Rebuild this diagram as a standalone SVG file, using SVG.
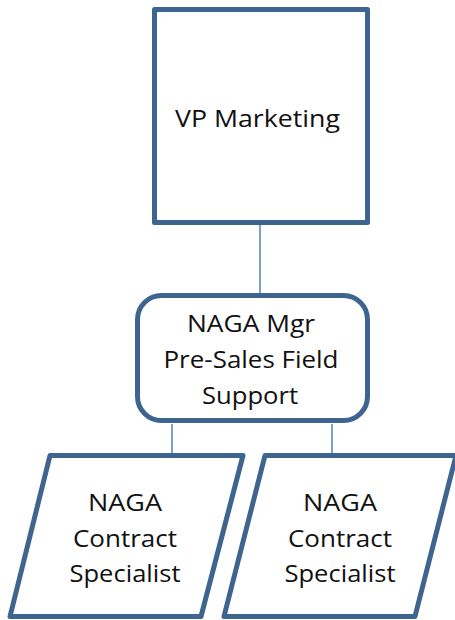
<svg xmlns="http://www.w3.org/2000/svg" width="455" height="620" viewBox="0 0 455 620">
<style>
.box{fill:#fff;stroke:#3e6590;stroke-width:5;stroke-linejoin:round}
.con{stroke:#4f81bd;stroke-width:1.5;fill:none}
.t{font-family:"Open Sans","Liberation Sans",sans-serif;font-size:24px;fill:#111;text-anchor:middle}
</style>
<rect width="455" height="620" fill="#fff"/>
<g id="connectors">
<line class="con" x1="260" y1="225" x2="260" y2="294"/>
<line class="con" x1="172" y1="424" x2="172" y2="455"/>
<line class="con" x1="332" y1="424" x2="332" y2="455"/>
</g>
<g id="vp">
<rect class="box" x="154.5" y="9.5" width="213" height="213"/>
<text class="t" x="257.5" y="127" textLength="165" lengthAdjust="spacingAndGlyphs">VP Marketing</text>
</g>
<g id="mgr">
<rect class="box" x="137.5" y="295.5" width="230" height="125" rx="24"/>
<text class="t" x="251" y="332" textLength="128" lengthAdjust="spacingAndGlyphs">NAGA Mgr</text>
<text class="t" x="251" y="368" textLength="175" lengthAdjust="spacingAndGlyphs">Pre-Sales Field</text>
<text class="t" x="250" y="404" textLength="96" lengthAdjust="spacingAndGlyphs">Support</text>
</g>
<g id="spec1">
<polygon class="box" points="50,455.5 243,455.5 201,616.5 10,616.5"/>
<text class="t" x="125" y="511" textLength="74" lengthAdjust="spacingAndGlyphs">NAGA</text>
<text class="t" x="125" y="547" textLength="104" lengthAdjust="spacingAndGlyphs">Contract</text>
<text class="t" x="125" y="582" textLength="111" lengthAdjust="spacingAndGlyphs">Specialist</text>
</g>
<g id="spec2">
<polygon class="box" points="265,455.5 456,455.5 415,616.5 224,616.5"/>
<text class="t" x="340" y="511" textLength="74" lengthAdjust="spacingAndGlyphs">NAGA</text>
<text class="t" x="340" y="547" textLength="104" lengthAdjust="spacingAndGlyphs">Contract</text>
<text class="t" x="340" y="582" textLength="111" lengthAdjust="spacingAndGlyphs">Specialist</text>
</g>
</svg>
